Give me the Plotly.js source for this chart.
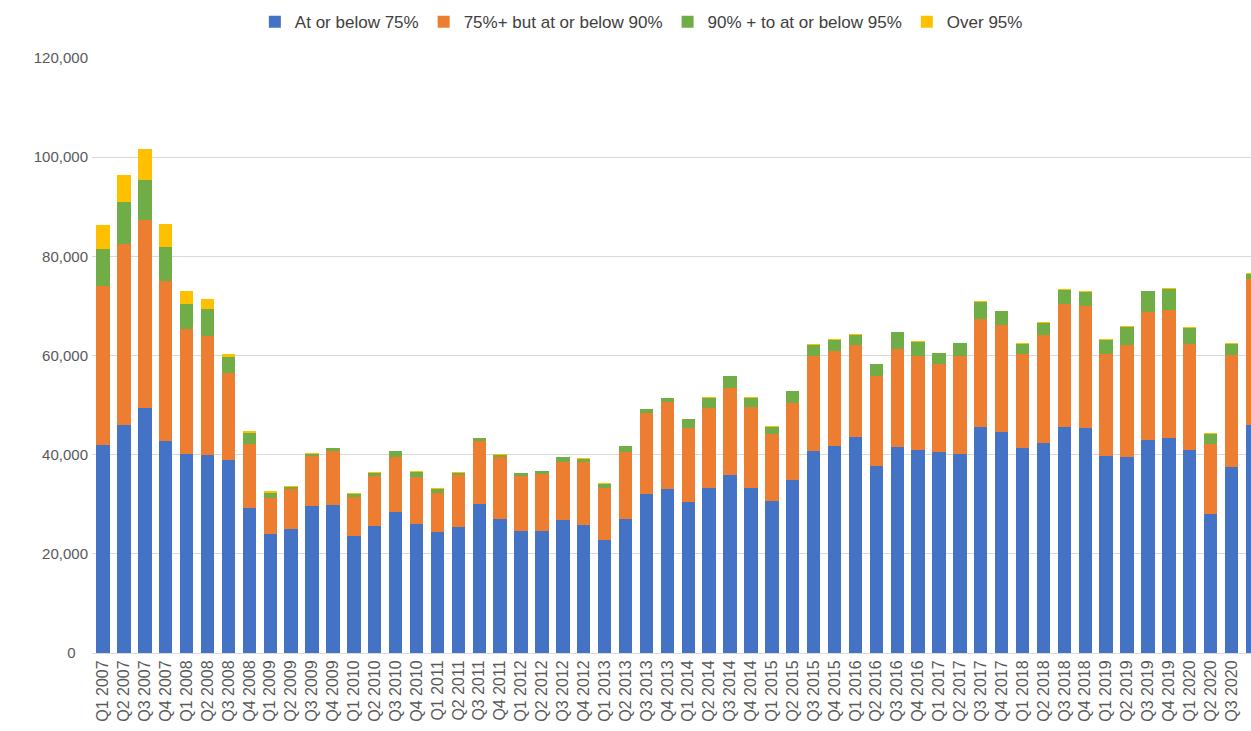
<!DOCTYPE html>
<html>
<head>
<meta charset="utf-8">
<script src="https://cdn.plot.ly/plotly-3.0.1.min.js"></script>
<style>html,body{margin:0;padding:0;background:#fff;}#chart{width:1251px;height:731px;}</style>
</head>
<body>
<div id="chart"></div>
<script>
const quarters = [
 "Q1 2007","Q2 2007","Q3 2007","Q4 2007","Q1 2008","Q2 2008","Q3 2008","Q4 2008",
 "Q1 2009","Q2 2009","Q3 2009","Q4 2009","Q1 2010","Q2 2010","Q3 2010","Q4 2010",
 "Q1 2011","Q2 2011","Q3 2011","Q4 2011","Q1 2012","Q2 2012","Q3 2012","Q4 2012",
 "Q1 2013","Q2 2013","Q3 2013","Q4 2013","Q1 2014","Q2 2014","Q3 2014","Q4 2014",
 "Q1 2015","Q2 2015","Q3 2015","Q4 2015","Q1 2016","Q2 2016","Q3 2016","Q4 2016",
 "Q1 2017","Q2 2017","Q3 2017","Q4 2017","Q1 2018","Q2 2018","Q3 2018","Q4 2018",
 "Q1 2019","Q2 2019","Q3 2019","Q4 2019","Q1 2020","Q2 2020","Q3 2020","Q4 2020"
];
// values in thousands
const atOrBelow75 = [
 42.0,46.0,49.4,42.7,40.2,39.9,38.9,29.3,
 24.0,25.0,29.7,29.9,23.5,25.7,28.5,26.1,
 24.5,25.4,30.1,27.1,24.6,24.6,26.9,25.9,
 22.8,27.1,32.1,33.1,30.5,33.2,36.0,33.2,
 30.7,34.9,40.7,41.7,43.6,37.7,41.6,40.9,
 40.6,40.2,45.5,44.5,41.4,42.4,45.5,45.3,
 39.8,39.6,43.0,43.4,41.0,28.0,37.5,46.0
];
const from75to90 = [
 32.1,36.4,38.0,32.3,25.1,24.0,17.6,12.8,
 7.3,8.0,10.0,10.8,7.9,10.0,11.0,9.4,
 7.8,10.5,12.6,12.4,11.1,11.5,11.7,12.7,
 10.5,13.5,16.3,17.5,14.9,16.2,17.5,16.4,
 13.4,15.6,19.3,19.3,18.6,18.2,19.7,19.1,
 17.6,19.6,21.8,21.7,19.0,21.7,24.8,24.6,
 20.5,22.5,25.8,25.7,21.3,14.2,22.7,29.5
];
const from90to95 = [
 7.4,8.6,8.0,6.8,5.0,5.4,3.1,2.3,
 1.0,0.4,0.5,0.6,0.7,0.7,1.2,1.1,
 0.8,0.5,0.6,0.5,0.6,0.6,0.9,0.6,
 0.8,1.1,0.8,0.8,1.7,2.1,2.3,1.9,
 1.5,2.3,2.2,2.2,2.0,2.3,3.4,2.8,
 2.3,2.7,3.4,2.7,2.0,2.5,3.0,2.9,
 2.9,3.7,4.2,4.3,3.3,2.0,2.2,1.0
];
const over95 = [
 4.8,5.4,6.2,4.7,2.8,2.0,0.8,0.3,
 0.3,0.2,0.1,0.1,0.1,0.1,0.1,0.1,
 0.1,0.1,0.1,0.1,0.1,0.1,0.1,0.1,
 0.1,0.1,0.1,0.1,0.1,0.1,0.1,0.1,
 0.1,0.1,0.1,0.1,0.1,0.1,0.1,0.1,
 0.1,0.1,0.2,0.1,0.1,0.1,0.2,0.2,
 0.1,0.1,0.1,0.2,0.1,0.1,0.1,0.1
];
const seriesNames = ["At or below 75%","75%+ but at or below 90%","90% + to at or below 95%","Over 95%"];
const seriesColors = ["#4472C4","#ED7D31","#70AD47","#FFC000"];
const yTickVals = [0,20000,40000,60000,80000,100000,120000];
const yTickText = ["0\u00a0\u00a0\u00a0","20,000","40,000","60,000","80,000","100,000","120,000"];

const allSeries = [atOrBelow75, from75to90, from90to95, over95];
const traces = allSeries.map((s,i)=>({
  type:'bar',
  name: seriesNames[i],
  x: quarters,
  y: s.map(v=>Math.round(v*1000)),
  marker:{color: seriesColors[i], line:{width:0}},
  hoverinfo:'x+y+name'
}));

const layout = {
  width:1251, height:731,
  barmode:'stack',
  bargap:0.36,
  paper_bgcolor:'#fff', plot_bgcolor:'#fff',
  margin:{l:92, r:0, t:58, b:78, pad:0},
  font:{family:'"Liberation Sans", Arial, sans-serif', color:'#595959', size:14},
  showlegend:true,
  legend:{orientation:'h', x:0.474, xanchor:'center', y:1.06, yanchor:'middle',
          font:{size:17, color:'#404040'}, traceorder:'normal', itemwidth:30, itemclick:false},
  xaxis:{
    type:'category',
    range:[-0.53, 54.93],
    tickmode:'array', tickvals: quarters, ticktext: quarters,
    tickangle:-90, tickfont:{size:16, color:'#595959'},
    showgrid:false, showline:true, linecolor:'#d9d9d9', linewidth:1,
    ticks:'', automargin:false, fixedrange:true
  },
  yaxis:{
    range:[0,120000],
    tickmode:'array', tickvals:yTickVals, ticktext:yTickText,
    tickfont:{size:15, color:'#595959'},
    ticklabelstandoff:3,
    showgrid:true, gridcolor:'#d9d9d9', gridwidth:1,
    zeroline:false, showline:false, ticks:'',
    automargin:false, fixedrange:true
  }
};

Plotly.newPlot('chart', traces, layout, {displayModeBar:false, staticPlot:true});
</script>
</body>
</html>
